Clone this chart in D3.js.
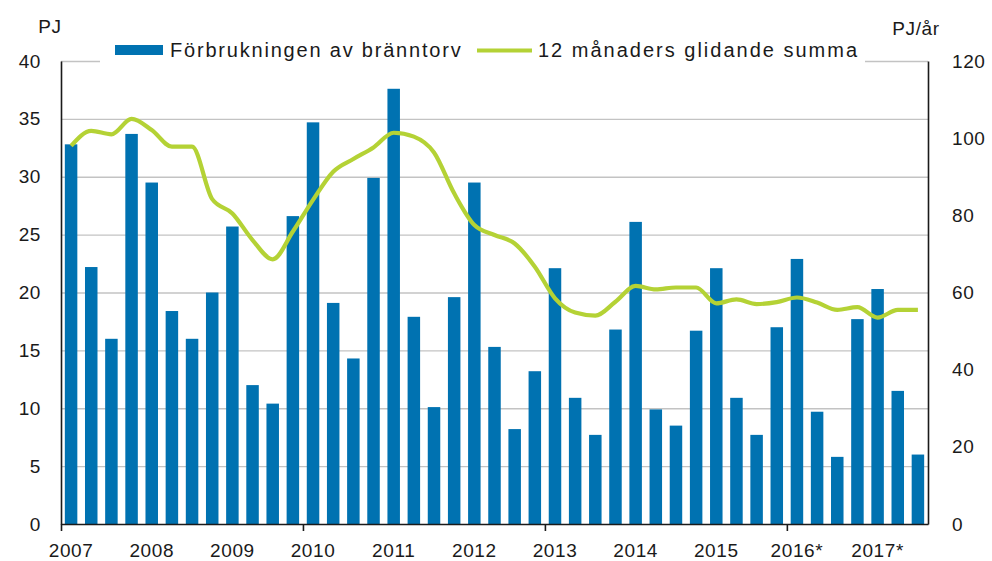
<!DOCTYPE html>
<html>
<head>
<meta charset="utf-8">
<script src="https://cdn.jsdelivr.net/npm/d3@7"></script>
<style>
  body { margin: 0; background: #fff; }
  text { font-family: "Liberation Sans", Arial, sans-serif; fill: #1a1a1a; }
</style>
</head>
<body>
<div id="chart"></div>
<script>
// tick labels on the time axis (one per year, first quarter)
const yearLabels = ["2007", "2008", "2009", "2010", "2011", "2012", "2013", "2014", "2015", "2016*", "2017*"];

// quarterly consumption of fuel peat, PJ (2007 Q1 .. 2017 Q3)
const peatUse = [
  32.8, 22.2, 16.0, 33.7,
  29.5, 18.4, 16.0, 20.0,
  25.7, 12.0, 10.4, 26.6,
  34.7, 19.1, 14.3, 29.9,
  37.6, 17.9, 10.1, 19.6,
  29.5, 15.3, 8.2, 13.2,
  22.1, 10.9, 7.7, 16.8,
  26.1, 9.9, 8.5, 16.7,
  22.1, 10.9, 7.7, 17.0,
  22.9, 9.7, 5.8, 17.7,
  20.3, 11.5, 6.0
];

// 12 month moving sum, PJ/year
const movingSum = [
  98.0, 101.9, 101.0, 105.0,
  102.1, 97.8, 97.8, 84.2,
  80.5, 73.6, 68.6, 75.8,
  84.0, 91.3, 94.6, 97.6,
  101.4, 100.4, 96.3, 85.7,
  77.5, 74.9, 72.7, 66.7,
  58.5, 54.8, 54.0, 57.6,
  61.7, 60.8, 61.3, 61.3,
  57.2, 58.2, 57.0, 57.5,
  58.7, 57.4, 55.5, 56.2,
  53.5, 55.5, 55.5
];

const leftTicks = [0, 5, 10, 15, 20, 25, 30, 35, 40];
const rightTicks = [0, 20, 40, 60, 80, 100, 120];
const tickYears = ["2007", "2010", "2013", "2016*"];

const seriesNames = ["Förbrukningen av bränntorv", "12 månaders glidande summa"];

const width = 992, height = 561;
const margin = {top: 61, right: 64, bottom: 37, left: 61};
const innerW = width - margin.left - margin.right;
const innerH = height - margin.top - margin.bottom;

const barColor = "#0072b1";
const lineColor = "#b4d235";

// one key per quarter
const quarters = [];
yearLabels.forEach(y => { for (let q = 1; q <= 4; q++) quarters.push(y + "Q" + q); });
const keys = quarters.slice(0, peatUse.length);

const svg = d3.select("#chart").append("svg")
  .attr("width", width)
  .attr("height", height);

const g = svg.append("g")
  .attr("transform", "translate(" + margin.left + "," + margin.top + ")");

const x = d3.scaleBand().domain(keys).range([0, innerW])
  .paddingInner(0.38).paddingOuter(0.19);
const xIdx = d3.scaleLinear().domain([0, keys.length]).range([0, innerW]);
const y = d3.scaleLinear().domain([0, 40]).range([innerH, 0]);
const y2 = d3.scaleLinear().domain([0, 120]).range([innerH, 0]);

// gridlines
g.selectAll("line.grid")
  .data(leftTicks.slice(1))
  .enter().append("line")
  .attr("class", "grid")
  .attr("x1", 0)
  .attr("x2", innerW)
  .attr("y1", d => y(d) + 0.5)
  .attr("y2", d => y(d) + 0.5)
  .style("stroke", "#c3c3c3")
  .style("stroke-width", 1.3);

// bars
g.selectAll("rect.bar")
  .data(peatUse)
  .enter().append("rect")
  .attr("class", "bar")
  .attr("x", (d, i) => x(keys[i]))
  .attr("width", x.bandwidth())
  .attr("y", d => y(d))
  .attr("height", d => y(0) - y(d))
  .style("fill", barColor);

// moving sum line
const line = d3.line()
  .x((d, i) => x(keys[i]) + x.bandwidth() / 2)
  .y(d => y2(d))
  .curve(d3.curveMonotoneX);

g.append("path")
  .attr("d", line(movingSum))
  .style("fill", "none")
  .style("stroke", lineColor)
  .style("stroke-width", 4.2)
  .style("stroke-linejoin", "round");

// axes
const leftAxis = d3.axisLeft(y).tickValues(leftTicks).tickSize(0).tickPadding(20);
g.append("g").attr("class", "y axis").call(leftAxis);

const rightAxis = d3.axisRight(y2).tickValues(rightTicks).tickSize(0).tickPadding(24);
g.append("g").attr("class", "y2 axis")
  .attr("transform", "translate(" + innerW + ",0)")
  .call(rightAxis);

const bottomAxis = d3.axisBottom(xIdx)
  .tickValues(tickYears.map(t => keys.indexOf(t + "Q1")))
  .tickFormat("")
  .tickSize(7)
  .tickSizeOuter(0);
g.append("g").attr("class", "x axis")
  .attr("transform", "translate(0," + innerH + ")")
  .call(bottomAxis);

svg.selectAll(".axis path.domain").style("stroke", "#1a1a1a").style("stroke-width", 1.6);
svg.selectAll(".x.axis .tick line").style("stroke", "#1a1a1a").style("stroke-width", 1.6);
svg.selectAll(".axis text")
  .style("font-size", "19px")
  .style("letter-spacing", "0.6px")
  .style("fill", "#1a1a1a")
  .attr("font-family", null);

// year labels under the first quarter of each year
g.selectAll("text.year")
  .data(yearLabels)
  .enter().append("text")
  .attr("class", "year")
  .attr("x", d => x(d + "Q1") + x.bandwidth() / 2)
  .attr("y", innerH + 33)
  .attr("text-anchor", "middle")
  .style("font-size", "19px")
  .style("letter-spacing", "0.6px")
  .text(d => d);

// unit labels
svg.append("text")
  .attr("x", 50)
  .attr("y", 33)
  .attr("text-anchor", "middle")
  .style("font-size", "19px")
  .style("letter-spacing", "0.6px")
  .text("PJ");

svg.append("text")
  .attr("x", 916)
  .attr("y", 35)
  .attr("text-anchor", "middle")
  .style("font-size", "19px")
  .style("letter-spacing", "0.6px")
  .text("PJ/år");

// legend
const legend = svg.append("g").attr("class", "legend");
legend.append("rect")
  .attr("x", 100)
  .attr("y", 34)
  .attr("width", 765)
  .attr("height", 29)
  .style("fill", "#fff");

legend.append("rect")
  .attr("x", 115)
  .attr("y", 45)
  .attr("width", 48)
  .attr("height", 10)
  .style("fill", barColor);

legend.append("text")
  .attr("x", 170)
  .attr("y", 57)
  .style("font-size", "20px")
  .style("letter-spacing", "1.8px")
  .text(seriesNames[0]);

legend.append("line")
  .attr("x1", 477)
  .attr("x2", 532)
  .attr("y1", 50.5)
  .attr("y2", 50.5)
  .style("stroke", lineColor)
  .style("stroke-width", 4.2);

legend.append("text")
  .attr("x", 538)
  .attr("y", 57)
  .style("font-size", "20px")
  .style("letter-spacing", "2.0px")
  .text(seriesNames[1]);
</script>
</body>
</html>
